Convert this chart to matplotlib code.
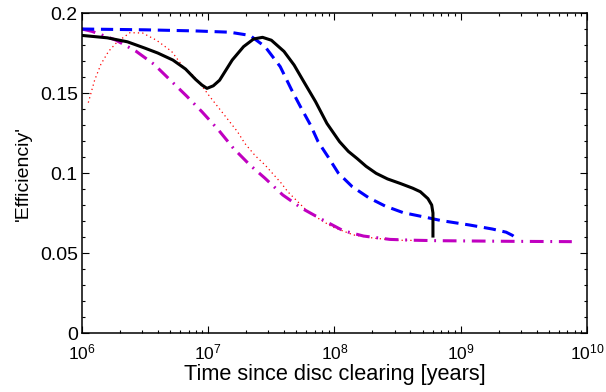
import numpy as np
import matplotlib
matplotlib.use("Agg")
import matplotlib.pyplot as plt
from matplotlib.ticker import LogLocator, MultipleLocator

# values (log10 of time in years, efficiency)
solid_logt = [6.0, 6.2, 6.36, 6.5, 6.6, 6.72, 6.82, 6.9, 6.95, 6.99, 7.04, 7.09,
              7.19, 7.28, 7.36, 7.43, 7.5, 7.6, 7.68, 7.75, 7.85, 7.94, 8.04,
              8.11, 8.18, 8.25, 8.33, 8.42, 8.52, 8.62, 8.68, 8.74, 8.77,
              8.78, 8.78]
solid_eff = [0.186, 0.1845, 0.182, 0.178, 0.175, 0.1706, 0.165, 0.1585, 0.155,
             0.1529, 0.1545, 0.158, 0.1706, 0.179, 0.1838, 0.1848, 0.183,
             0.176, 0.1675, 0.158, 0.1446, 0.131, 0.1196, 0.1135, 0.109,
             0.1042, 0.0998, 0.0963, 0.0935, 0.0905, 0.0883, 0.084, 0.080,
             0.075, 0.0606]

dash_logt = [6.0, 6.5, 6.9, 7.17, 7.33, 7.45, 7.57, 7.66, 7.73, 7.81, 7.87,
             7.95, 8.03, 8.14, 8.27, 8.40, 8.545, 8.70, 8.85, 9.07, 9.25,
             9.36, 9.41, 9.45]
dash_eff = [0.190, 0.1895, 0.1888, 0.188, 0.186, 0.179, 0.1665, 0.152, 0.1415,
            0.130, 0.1196, 0.110, 0.100, 0.0915, 0.0846, 0.0794, 0.0752,
            0.0727, 0.0702, 0.0675, 0.065, 0.063, 0.061, 0.0585]

dot_logt = [6.05, 6.10, 6.15, 6.21, 6.28, 6.38, 6.48, 6.59, 6.71, 6.80, 6.88,
            6.95, 7.01, 7.09, 7.16, 7.23, 7.29, 7.37, 7.45, 7.52, 7.58, 7.63,
            7.71, 7.79, 7.85, 7.98, 8.15, 8.32, 8.50, 8.7]
dot_eff = [0.144, 0.158, 0.168, 0.176, 0.182, 0.1877, 0.1875, 0.183, 0.176,
           0.1665, 0.161, 0.1544, 0.148, 0.140, 0.133, 0.126, 0.1185, 0.111,
           0.105, 0.0988, 0.0935, 0.0883, 0.082, 0.0758, 0.0727, 0.0664,
           0.0613, 0.0592, 0.058, 0.0578]

dashdot_logt = [6.0, 6.08, 6.27, 6.43, 6.57, 6.7, 6.83, 6.95, 7.08, 7.20,
                7.33, 7.45, 7.59, 7.74, 7.90, 8.07, 8.23, 8.44, 8.62, 8.81,
                9.4, 9.88]
dashdot_eff = [0.190, 0.1885, 0.183, 0.176, 0.168, 0.158, 0.148, 0.1383,
               0.127, 0.1154, 0.105, 0.0967, 0.0863, 0.078, 0.071, 0.0639,
               0.0606, 0.0585, 0.058, 0.0577, 0.0573, 0.0571]

plt.rcParams["font.family"] = ["Liberation Sans", "DejaVu Sans"]
plt.rcParams["mathtext.fontset"] = "custom"
plt.rcParams["mathtext.rm"] = "Liberation Sans"

fig = plt.figure(figsize=(6.06, 3.92), dpi=100)
ax = fig.add_axes([0.1353, 0.1505, 0.8333, 0.8163])

ax.plot(10 ** np.array(dot_logt), dot_eff, color="red", lw=0.9,
        linestyle=(0, (1, 2.5)))
ax.plot(10 ** np.array(dashdot_logt), dashdot_eff, color="#c000c0", lw=2.2,
        linestyle=(0, (4.5, 2.2, 0.6, 2.2)))
ax.plot(10 ** np.array(dash_logt), dash_eff, color="blue", lw=2.2,
        linestyle=(0, (4, 2.2)))
ax.plot(10 ** np.array(solid_logt), solid_eff, color="black", lw=2.2)

ax.set_xscale("log")
ax.set_xlim(1e6, 1e10)
ax.set_ylim(0, 0.2)
ax.xaxis.set_major_locator(LogLocator(base=10, numticks=10))
ax.xaxis.set_minor_locator(LogLocator(base=10, subs=np.arange(2, 10), numticks=20))
ax.yaxis.set_major_locator(MultipleLocator(0.05))
ax.yaxis.set_minor_locator(MultipleLocator(0.01))
ax.set_yticks([0, 0.05, 0.1, 0.15, 0.2])
ax.set_yticklabels(["0", "0.05", "0.1", "0.15", "0.2"])

ax.tick_params(which="both", direction="in", top=True, right=True, width=0.8)
ax.tick_params(which="major", length=5)
ax.tick_params(which="minor", length=2.5)
ax.tick_params(axis="y", labelsize=14, pad=3)
ax.tick_params(axis="x", labelsize=12.5, pad=7)
for s in ax.spines.values():
    s.set_linewidth(1.1)

ax.set_xlabel("Time since disc clearing [years]", fontsize=15.7, labelpad=1)
ax.set_ylabel("'Efficienciy'", fontsize=14, labelpad=6)

fig.savefig("out.png", dpi=100)
